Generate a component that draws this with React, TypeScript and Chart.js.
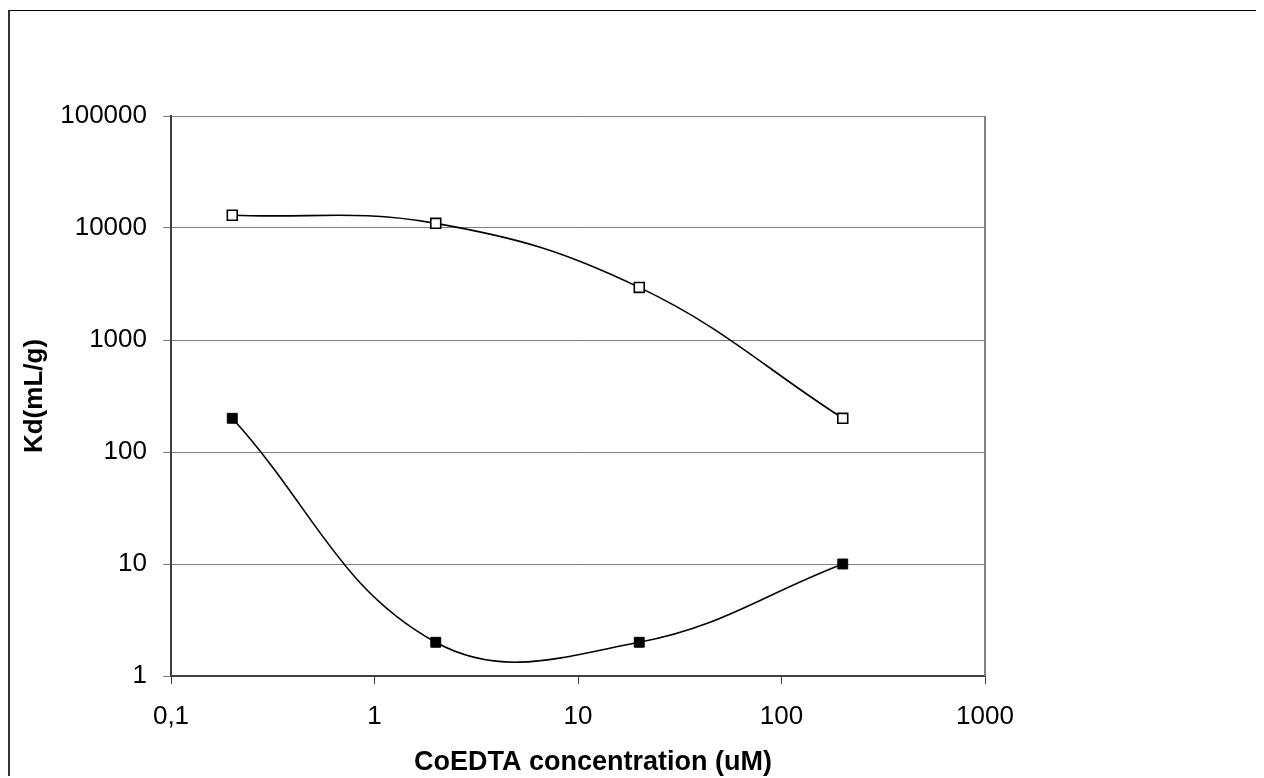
import React, { useEffect, useRef } from "react";
import { Chart, registerables } from "chart.js";

Chart.register(...registerables);

const concentrations = [0.2, 2, 20, 200];
const kdOpen = [13000, 11000, 2950, 200];
const kdFilled = [200, 2, 2, 10];
const xTicks = [0.1, 1, 10, 100, 1000];
const yTicks = [1, 10, 100, 1000, 10000, 100000];
const xTitle = "CoEDTA concentration (uM)";
const yTitle = "Kd(mL/g)";

const FONT = "'Liberation Sans', Arial, sans-serif";
const W = 1256;
const H = 770;

const titlePlugin = {
  id: "axisTitles",
  afterDraw(chart: any) {
    const ctx = chart.ctx;
    const area = chart.chartArea;
    ctx.save();
    // right border of plot area
    ctx.strokeStyle = "#808080";
    ctx.lineWidth = 2;
    ctx.beginPath();
    ctx.moveTo(area.right, area.top);
    ctx.lineTo(area.right, area.bottom);
    ctx.stroke();
    ctx.fillStyle = "#000";
    ctx.textAlign = "center";
    ctx.textBaseline = "alphabetic";
    ctx.font = `bold 27px ${FONT}`;
    ctx.fillText(xTitle, 585, 762);
    ctx.font = `bold 26px ${FONT}`;
    ctx.translate(34, 388);
    ctx.rotate(-Math.PI / 2);
    ctx.fillText(yTitle, 0, 0);
    ctx.restore();
  },
};

export default function App() {
  const ref = useRef<HTMLCanvasElement>(null);
  useEffect(() => {
    if (!ref.current) return;
    const chart = new Chart(ref.current, {
      type: "line",
      data: {
        datasets: [
          {
            data: concentrations.map((x, i) => ({ x, y: kdOpen[i] })),
            borderColor: "#000",
            borderWidth: 1.6,
            tension: 0.4,
            pointStyle: "rect",
            pointRadius: 7,
            pointBorderWidth: 1.6,
            pointBackgroundColor: "#fff",
            pointBorderColor: "#000",
            capBezierPoints: false,
          } as any,
          {
            data: concentrations.map((x, i) => ({ x, y: kdFilled[i] })),
            borderColor: "#000",
            borderWidth: 1.6,
            tension: 0.4,
            pointStyle: "rect",
            pointRadius: 7,
            pointBorderWidth: 1,
            pointBackgroundColor: "#000",
            pointBorderColor: "#000",
            capBezierPoints: false,
          } as any,
        ],
      },
      options: {
        responsive: false,
        animation: false,
        devicePixelRatio: 1,
        layout: { padding: { top: 108, right: 279, left: 0, bottom: 0 } },
        plugins: {
          legend: { display: false },
          tooltip: { enabled: false },
        },
        scales: {
          x: {
            type: "logarithmic",
            min: 0.1,
            max: 1000,
            afterBuildTicks: (s: any) => {
              s.ticks = xTicks.map((v) => ({ value: v }));
            },
            afterFit: (s: any) => {
              s.height = 102;
            },
            ticks: {
              autoSkip: false,
              maxRotation: 0,
              padding: 17,
              color: "#000",
              font: { family: FONT, size: 26 },
              callback: (v: any) => String(v).replace(".", ","),
            },
            grid: {
              drawOnChartArea: false,
              drawTicks: true,
              tickLength: 8,
              tickColor: "#404040",
              tickWidth: 1,
            },
            border: { color: "#404040", width: 2 },
          },
          y: {
            type: "logarithmic",
            min: 1,
            max: 100000,
            afterBuildTicks: (s: any) => {
              s.ticks = yTicks.map((v) => ({ value: v }));
            },
            afterFit: (s: any) => {
              s.width = 163;
            },
            ticks: {
              autoSkip: false,
              padding: 16,
              color: "#000",
              font: { family: FONT, size: 26 },
              callback: (v: any) => String(v),
            },
            grid: {
              color: "#808080",
              lineWidth: 1,
              drawTicks: true,
              tickLength: 8,
              tickColor: "#808080",
            },
            border: { color: "#404040", width: 2 },
          },
        },
      },
      plugins: [titlePlugin],
    });
    return () => chart.destroy();
  }, []);

  return (
    <div
      style={{
        position: "relative",
        top: 2,
        width: W,
        height: H - 2,
        boxSizing: "border-box",
        borderLeft: "2px solid #333",
        borderTop: "1px solid #000",
        overflow: "visible",
      }}
    >
      <canvas
        ref={ref}
        width={W}
        height={H}
        style={{ position: "absolute", left: -2, top: -3, width: W, height: H }}
      />
    </div>
  );
}
